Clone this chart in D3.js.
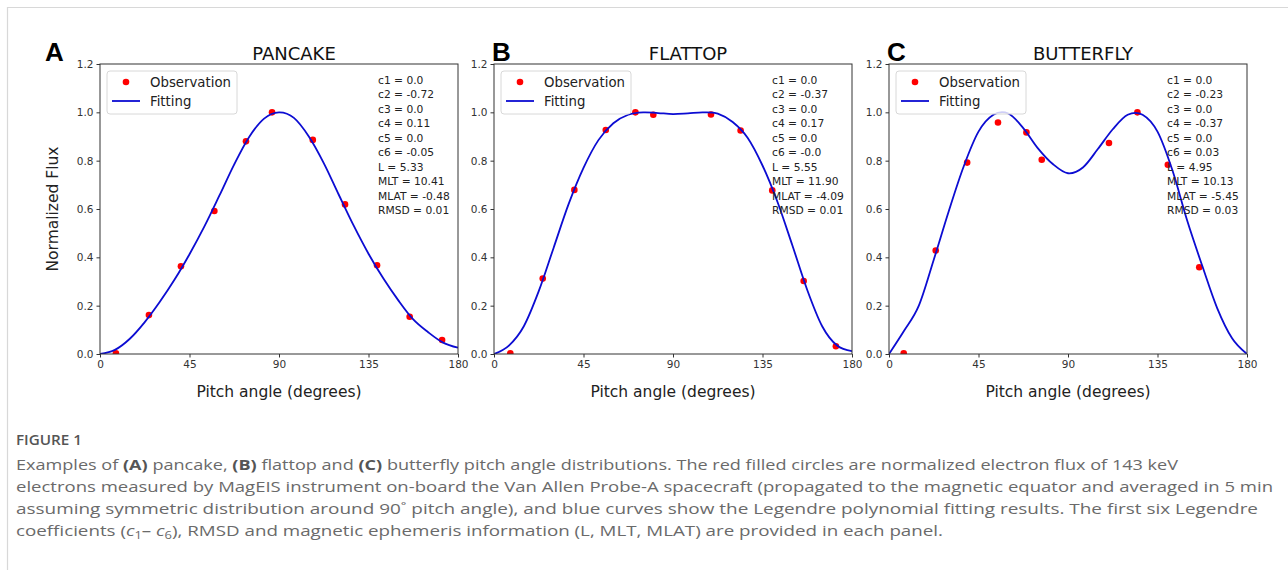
<!DOCTYPE html>
<html>
<head>
<meta charset="utf-8">
<script src="https://cdn.jsdelivr.net/npm/d3@7"></script>
<style>
body { margin: 0; background: #fff; }
svg { display: block; }
</style>
</head>
<body>
<svg id="fig" width="1288" height="570"></svg>
<script>
var PLOT_TOP = 64;
var PLOT_HEIGHT = 290;
var PLOT_WIDTH = 358;

// values
var pitchGrid = [0, 7.5, 15, 22.5, 30, 37.5, 45, 52.5, 60, 67.5, 75, 82.5, 90,
    97.5, 105, 112.5, 120, 127.5, 135, 142.5, 150, 157.5, 165, 172.5, 180];

var pancakeFit = [0.0, 0.017, 0.063, 0.132, 0.215, 0.308, 0.413, 0.528, 0.655, 0.785, 0.898, 0.974, 1.0,
    0.977, 0.900, 0.790, 0.660, 0.532, 0.415, 0.312, 0.222, 0.143, 0.090, 0.047, 0.026];
var flattopFit = [0.0, 0.035, 0.115, 0.26, 0.44, 0.62, 0.77, 0.885, 0.955, 0.99, 1.0, 0.997, 0.993,
    0.996, 1.0, 0.995, 0.96, 0.895, 0.78, 0.63, 0.45, 0.265, 0.115, 0.035, 0.012];
var butterflyFit = [0.0, 0.095, 0.20, 0.39, 0.59, 0.775, 0.92, 0.99, 0.995, 0.935, 0.85, 0.785, 0.748,
    0.772, 0.848, 0.93, 0.99, 0.99, 0.92, 0.76, 0.55, 0.365, 0.19, 0.065, 0.0];

var pancakeObsAngle = [8.0, 24.6, 40.7, 57.5, 73.4, 86.5, 107.0, 123.2, 139.3, 155.7, 172.0];
var pancakeObsFlux = [0.003, 0.161, 0.363, 0.592, 0.880, 1.0, 0.886, 0.619, 0.367, 0.154, 0.058];
var flattopObsAngle = [8.2, 24.5, 40.4, 56.2, 71.1, 80.1, 109.1, 124.0, 139.9, 155.7, 171.9];
var flattopObsFlux = [0.003, 0.312, 0.679, 0.927, 1.0, 0.990, 0.991, 0.925, 0.677, 0.302, 0.032];
var butterflyObsAngle = [7.4, 23.5, 39.3, 54.8, 69.1, 76.8, 110.6, 124.9, 140.2, 156.0];
var butterflyObsFlux = [0.003, 0.428, 0.792, 0.958, 0.917, 0.804, 0.873, 1.0, 0.783, 0.359];

var pancakeStats = ["c1 = 0.0", "c2 = -0.72", "c3 = 0.0", "c4 = 0.11", "c5 = 0.0", "c6 = -0.05",
    "L = 5.33", "MLT = 10.41", "MLAT = -0.48", "RMSD = 0.01"];
var flattopStats = ["c1 = 0.0", "c2 = -0.37", "c3 = 0.0", "c4 = 0.17", "c5 = 0.0", "c6 = -0.0",
    "L = 5.55", "MLT = 11.90", "MLAT = -4.09", "RMSD = 0.01"];
var butterflyStats = ["c1 = 0.0", "c2 = -0.23", "c3 = 0.0", "c4 = -0.37", "c5 = 0.0", "c6 = 0.03",
    "L = 4.95", "MLT = 10.13", "MLAT = -5.45", "RMSD = 0.03"];

var panelLetters = ["A", "B", "C"];
var panelTitles = ["PANCAKE", "FLATTOP", "BUTTERFLY"];
var panelLefts = [100, 494, 889];
var xTicks = [0, 45, 90, 135, 180];
var yTicks = [0.0, 0.2, 0.4, 0.6, 0.8, 1.0, 1.2];

var panels = [
    {fit: pancakeFit, ang: pancakeObsAngle, flux: pancakeObsFlux, stats: pancakeStats},
    {fit: flattopFit, ang: flattopObsAngle, flux: flattopObsFlux, stats: flattopStats},
    {fit: butterflyFit, ang: butterflyObsAngle, flux: butterflyObsFlux, stats: butterflyStats}
];

var svg = d3.select("#fig");
var FONT = "'DejaVu Sans', sans-serif";
var BLUE = "#0c0cd2";

// page frame
svg.append("line").attr("x1", 7).attr("x2", 1288).attr("y1", 7.5).attr("y2", 7.5)
    .style("stroke", "#d8d8d8").style("stroke-width", 1.2);
svg.append("line").attr("x1", 7.5).attr("x2", 7.5).attr("y1", 7).attr("y2", 570)
    .style("stroke", "#d8d8d8").style("stroke-width", 1.2);

function drawPanel(p, i) {
    var left = panelLefts[i];
    var x = d3.scaleLinear().domain([0, 180]).range([0, PLOT_WIDTH]);
    var y = d3.scaleLinear().domain([0, 1.2]).range([PLOT_HEIGHT, 0]);

    var g = svg.append("g").attr("transform", "translate(" + left + "," + PLOT_TOP + ")");

    g.append("clipPath").attr("id", "clip" + i)
        .append("rect").attr("width", PLOT_WIDTH).attr("height", PLOT_HEIGHT);

    // axes
    var xAxis = g.append("g").attr("transform", "translate(0," + PLOT_HEIGHT + ")")
        .call(d3.axisBottom(x).tickValues(xTicks).tickSize(3.5).tickPadding(3));
    var yAxis = g.append("g")
        .call(d3.axisLeft(y).tickValues(yTicks).tickSize(3.5).tickPadding(3).tickFormat(d3.format(".1f")));
    [xAxis, yAxis].forEach(function (a) {
        a.select(".domain").remove();
        a.selectAll("line").style("stroke", "#333");
        a.selectAll("text").style("font-family", FONT).style("font-size", "10.5px").style("fill", "#333");
    });

    // observations, clipped at the frame like matplotlib
    var plotArea = g.append("g").attr("clip-path", "url(#clip" + i + ")");
    plotArea.selectAll("circle").data(p.ang).enter().append("circle")
        .attr("cx", function (d) { return x(d); })
        .attr("cy", function (d, k) { return y(p.flux[k]); })
        .attr("r", 3.3)
        .style("fill", "#f00");

    var line = d3.line()
        .x(function (d) { return x(d); })
        .y(function (d, k) { return y(p.fit[k]); })
        .curve(d3.curveCardinal.tension(0));
    plotArea.append("path").datum(pitchGrid).attr("d", line)
        .style("fill", "none").style("stroke", BLUE).style("stroke-width", 1.8);

    g.append("rect").attr("width", PLOT_WIDTH).attr("height", PLOT_HEIGHT)
        .style("fill", "none").style("stroke", "#333").style("stroke-width", 1);

    // legend
    var leg = g.append("g").attr("transform", "translate(7,7)");
    leg.append("rect").attr("width", 130).attr("height", 43).attr("rx", 3)
        .style("fill", "#fff").style("fill-opacity", 0.8).style("stroke", "#d8d8d8");
    leg.append("circle").attr("cx", 19).attr("cy", 11).attr("r", 3.3).style("fill", "#f00");
    leg.append("line").attr("x1", 5).attr("x2", 33).attr("y1", 30).attr("y2", 30)
        .style("stroke", BLUE).style("stroke-width", 1.8);
    leg.selectAll("text").data(["Observation", "Fitting"]).enter().append("text")
        .attr("x", 43).attr("y", function (d, k) { return 11 + k * 19; })
        .attr("dy", "0.36em")
        .text(function (d) { return d; })
        .style("font-family", FONT).style("font-size", "13.3px").style("fill", "#222");

    // coefficients and ephemeris
    g.append("g").selectAll("text").data(p.stats).enter().append("text")
        .attr("x", 278).attr("y", function (d, k) { return 20 + k * 14.44; })
        .text(function (d) { return d; })
        .style("font-family", FONT).style("font-size", "10.7px").style("fill", "#222");

    // title and panel letter
    svg.append("text").attr("x", left + PLOT_WIDTH / 2 + 15).attr("y", 59.5)
        .attr("text-anchor", "middle").text(panelTitles[i])
        .style("font-family", FONT).style("font-size", "18px").style("fill", "#111");
    svg.append("text").attr("x", left - 56 + (i == 0 ? 1 : 54)).attr("y", 61)
        .text(panelLetters[i])
        .style("font-family", "'Liberation Sans', Arial, sans-serif").style("font-weight", "bold")
        .style("font-size", "26px").style("fill", "#000");

    svg.append("text").attr("x", left + PLOT_WIDTH / 2).attr("y", 397)
        .attr("text-anchor", "middle").text("Pitch angle (degrees)")
        .style("font-family", FONT).style("font-size", "15.5px").style("fill", "#222");
}

panels.forEach(drawPanel);

svg.append("text").attr("transform", "translate(58,209) rotate(-90)")
    .attr("text-anchor", "middle").text("Normalized Flux")
    .style("font-family", FONT).style("font-size", "15.5px").style("fill", "#222");

// caption
var CAP_FONT = "'Open Sans', 'Noto Sans', sans-serif";
svg.append("text").attr("x", 16).attr("y", 445).text("FIGURE 1")
    .attr("textLength", 66).attr("lengthAdjust", "spacingAndGlyphs")
    .style("font-family", CAP_FONT).style("font-size", "13.5px").style("font-weight", 600)
    .style("fill", "#555");

var captionLines = [
    [["Examples of ", 0], ["(A)", 1], [" pancake, ", 0], ["(B)", 1], [" flattop and ", 0], ["(C)", 1],
        [" butterfly pitch angle distributions. The red filled circles are normalized electron flux of 143 keV", 0]],
    [["electrons measured by MagEIS instrument on-board the Van Allen Probe-A spacecraft (propagated to the magnetic equator and averaged in 5 min", 0]],
    [["assuming symmetric distribution around 90˚ pitch angle), and blue curves show the Legendre polynomial fitting results. The first six Legendre", 0]],
    [["coefficients (", 0], ["c", 2], ["1", 3], ["– ", 0], ["c", 2], ["6", 3],
        ["), RMSD and magnetic ephemeris information (L, MLT, MLAT) are provided in each panel.", 0]]
];
var captionWidths = [1162, 1257, 1242, 927];

captionLines.forEach(function (parts, k) {
    var t = svg.append("text").attr("x", 16).attr("y", 470 + k * 22)
        .attr("textLength", captionWidths[k]).attr("lengthAdjust", "spacingAndGlyphs")
        .style("font-family", CAP_FONT).style("font-size", "14.5px").style("fill", "#6a6a6a");
    parts.forEach(function (part) {
        var s = t.append("tspan").text(part[0]);
        if (part[1] == 1) s.style("font-weight", "bold").style("fill", "#555");
        if (part[1] == 2) s.style("font-style", "italic");
        if (part[1] == 3) s.attr("baseline-shift", "-25%").style("font-size", "10px");
    });
});
</script>
</body>
</html>
